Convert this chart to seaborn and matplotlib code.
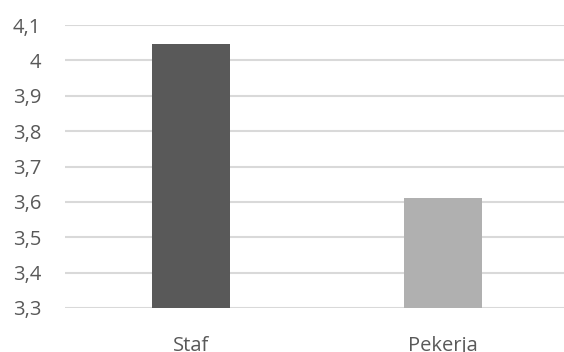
import matplotlib
matplotlib.use("Agg")
import matplotlib.pyplot as plt
from matplotlib.ticker import FuncFormatter
import seaborn as sns
import pandas as pd

categories = ["Staf", "Pekerja"]
values = [4.045, 3.61]
bar_colors = ["#595959", "#b0b0b0"]
y_ticks = [3.3, 3.4, 3.5, 3.6, 3.7, 3.8, 3.9, 4.0, 4.1]

sns.set_style("white")
plt.rcParams["font.family"] = ["Open Sans", "DejaVu Sans"]

W, H = 564, 352
fig = plt.figure(figsize=(W / 100, H / 100), dpi=100)
ax = fig.add_axes([65 / W, 44 / H, 504 / W, 283 / H])

df = pd.DataFrame({"kategori": categories, "nilai": values})
sns.barplot(data=df, x="kategori", y="nilai", hue="kategori",
            palette=dict(zip(categories, bar_colors)), legend=False,
            width=0.31, ax=ax, zorder=3, linewidth=0)

ax.set_ylim(3.3, 4.1)
ax.set_xlim(-0.5, 1.5)
ax.set_yticks(y_ticks)
ax.yaxis.set_major_formatter(FuncFormatter(lambda v, p: f"{v:g}".replace(".", ",")))
ax.grid(axis="y", color="#d9d9d9", linewidth=1.5, zorder=0)
ax.set_axisbelow(True)
for s in ax.spines.values():
    s.set_visible(False)
ax.set_xlabel("")
ax.set_ylabel("")
ax.tick_params(axis="y", length=0, pad=17, labelsize=14.5, labelcolor="#595959")
ax.tick_params(axis="x", length=0, pad=20.5, labelsize=14.5, labelcolor="#595959")

fig.savefig("out.png", dpi=100)
